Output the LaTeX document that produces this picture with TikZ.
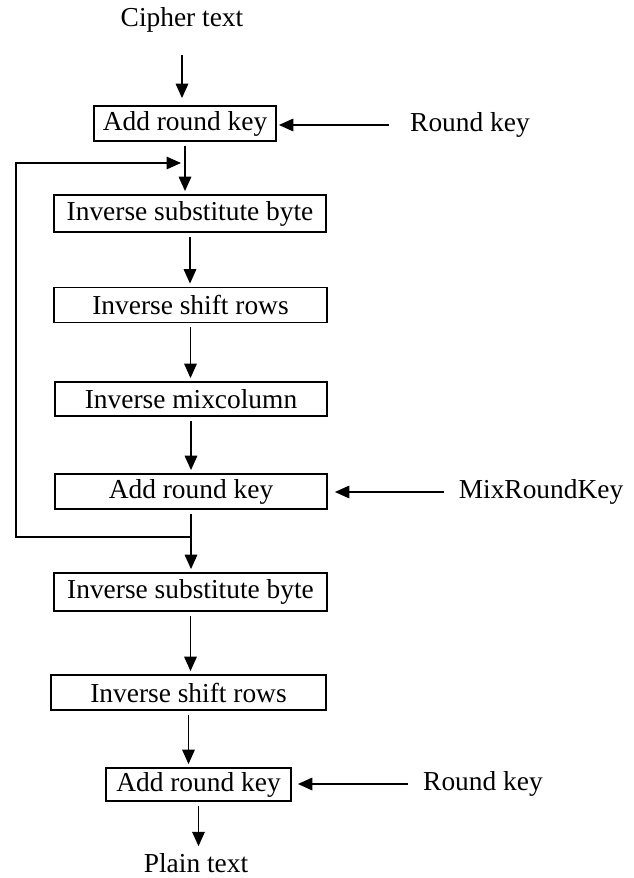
\documentclass[tikz,border=0pt]{standalone}
\usepackage{fontspec}
\setmainfont{Liberation Serif}
\usepackage{tikz}
\usetikzlibrary{arrows.meta, positioning, calc}

\begin{document}
\begin{tikzpicture}[
  x=0.02cm, y=-0.02cm,
  box/.style={rectangle, draw=black, line width=1pt, minimum height=0.7cm,
    inner sep=0pt, font=\fontsize{15.6}{18}\selectfont},
  lbl/.style={inner sep=1pt, font=\fontsize{15.6}{18}\selectfont},
  arr/.style={-{Triangle[length=2.9mm, width=2.5mm]}, line width=1pt,
    shorten <=0.08cm, shorten >=0.06cm},
]
  \useasboundingbox (0,0) rectangle (633,878);

  \node[box, minimum width=3.64cm] (ark1) at (185,123.5) {Add round key};
  \node[box, minimum width=5.44cm, minimum height=0.74cm] (isb1) at (190,213.5) {Inverse substitute byte};
  \node[box, minimum width=5.46cm] (isr1) at (190.5,305) {Inverse shift rows};
  \node[box, minimum width=5.44cm, minimum height=0.68cm] (imc) at (191,399) {Inverse mixcolumn};
  \node[box, minimum width=5.44cm] (ark2) at (191,491.5) {Add round key};
  \node[box, minimum width=5.46cm, minimum height=0.76cm] (isb2) at (190.5,592) {Inverse substitute byte};
  \node[box, minimum width=5.5cm] (isr2) at (188.5,692.5) {Inverse shift rows};
  \node[box, minimum width=3.7cm, minimum height=0.66cm] (ark3) at (198.5,784.5) {Add round key};

  \node[lbl] (cipher) at (182,20) {Cipher text};
  \node[lbl] (rk1) at (470,125) {Round key};
  \node[lbl] (mrk) at (541,492) {MixRoundKey};
  \node[lbl] (rk2) at (483,784) {Round key};
  \node[lbl] (plain) at (196,863) {Plain text};

  \draw[arr, shorten <=0.4cm, shorten >=0.14cm] (cipher.south) -- (cipher.south |- ark1.north);
  \draw[arr] (ark1.south) -- (ark1.south |- isb1.north);
  \draw[arr] (isb1.south) -- (isb1.south |- isr1.north);
  \draw[arr] (isr1.south) -- (isr1.south |- imc.north);
  \draw[arr] (imc.south) -- (imc.south |- ark2.north);
  \draw[arr] (ark2.south) -- (ark2.south |- isb2.north);
  \draw[arr] (isb2.south) -- (isb2.south |- isr2.north);
  \draw[arr] (isr2.south) -- (isr2.south |- ark3.north);
  \draw[arr, shorten >=0.1cm] (ark3.south) -- (ark3.south |- plain.north);

  \draw[arr, shorten <=0.38cm, shorten >=0.04cm] (rk1.west) -- (rk1.west -| ark1.east);
  \draw[arr, shorten <=0.26cm, shorten >=0.14cm] (mrk.west) -- (mrk.west -| ark2.east);
  \draw[arr, shorten <=0.26cm, shorten >=0.12cm] (rk2.west) -- (rk2.west -| ark3.east);

  \coordinate (loopin) at (185,163);
  \coordinate (loopout) at (191,537);
  \coordinate (loopleft) at (16,0);
  \draw[arr, shorten <=0pt, shorten >=0.08cm] (loopout) -- (loopout -| loopleft)
    -- (loopin -| loopleft) -- (loopin);
\end{tikzpicture}
\end{document}
